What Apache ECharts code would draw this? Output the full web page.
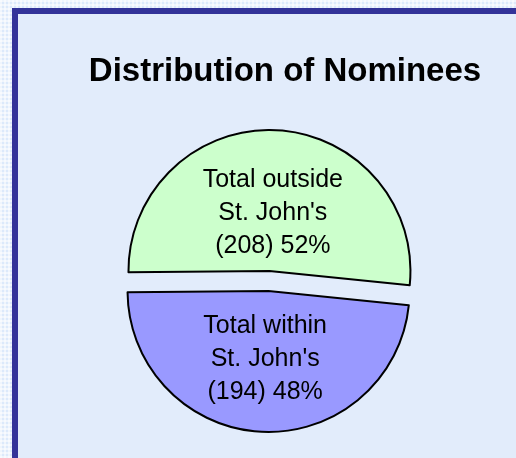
<!DOCTYPE html>
<html>
<head>
<meta charset="utf-8">
<script src="https://cdn.jsdelivr.net/npm/echarts@6/dist/echarts.min.js"></script>
<style>
  html, body { margin: 0; padding: 0; }
  body {
    width: 516px; height: 458px; overflow: hidden;
    background-color: #dce9fb;
    background-image:
      repeating-linear-gradient(0deg, rgba(255,255,255,0.55) 0 2px, transparent 2px 4px),
      repeating-linear-gradient(90deg, rgba(255,255,255,0.55) 0 2px, transparent 2px 4px);
  }
  #chart { width: 516px; height: 458px; }
</style>
</head>
<body>
<div id="chart"></div>
<script>
const categories = ["Total outside\nSt. John's", "Total within\nSt. John's"]
const counts = [208, 194]
const sliceColors = ['#ccffcc', '#9999ff']

const chart = echarts.init(document.getElementById('chart'))

// small vertical nudges so the labels sit where Excel put them
const labelDy = [16, -5]

chart.setOption({
  backgroundColor: 'transparent',
  title: {
    text: 'Distribution of Nominees',
    left: 280,
    top: 50,
    textAlign: 'center',
    textStyle: { fontFamily: 'Liberation Sans', fontSize: 33, fontWeight: 'bold', color: '#000' },
  },
  graphic: [
    { type: 'rect', z: -10, shape: { x: 18, y: 14, width: 498, height: 444 }, style: { fill: '#e2ecfb' } },
    { type: 'rect', z: -9, shape: { x: 12, y: 8, width: 504, height: 6 }, style: { fill: '#333399' } },
    { type: 'rect', z: -9, shape: { x: 12, y: 8, width: 6, height: 450 }, style: { fill: '#333399' } },
  ],
  series: [
    {
      type: 'pie',
      center: [269, 281],
      radius: 141,
      startAngle: 180.5,
      percentPrecision: 0,
      selectedMode: 'multiple',
      selectedOffset: 10,
      animation: false,
      itemStyle: { borderColor: '#000', borderWidth: 2 },
      emphasis: { disabled: true },
      label: {
        position: 'inside',
        formatter: '{b}\n({c}) {d}%',
        fontFamily: 'Liberation Sans',
        fontSize: 25,
        lineHeight: 33,
        color: '#000',
      },
      labelLayout: (p) => ({ dy: labelDy[p.dataIndex] }),
      data: categories.map((name, i) => ({
        name,
        value: counts[i],
        selected: true,
        itemStyle: { color: sliceColors[i] },
      })),
    },
  ],
})
</script>
</body>
</html>
